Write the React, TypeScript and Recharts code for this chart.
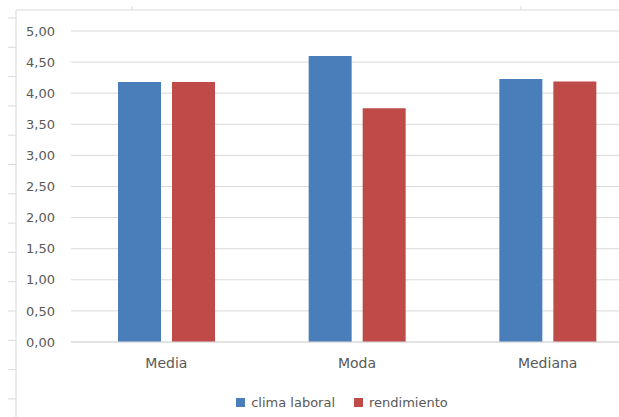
import { Bar, BarChart, CartesianGrid, Legend, XAxis, YAxis } from "recharts";

const categories = ["Media", "Moda", "Mediana"];
const climaLaboral = [4.18, 4.6, 4.23];
const rendimiento = [4.18, 3.76, 4.19];
const yTicks = [0, 0.5, 1, 1.5, 2, 2.5, 3, 3.5, 4, 4.5, 5];

const SERIES = [
  { key: "clima", label: "clima laboral", color: "#4A7EBB" },
  { key: "rend", label: "rendimiento", color: "#BE4B48" },
];

const FONT = "'DejaVu Sans', sans-serif";
const TEXT = "#595959";
const GRID = "#d9d9d9";

const chartData = categories.map((name, i) => ({
  name,
  clima: climaLaboral[i],
  rend: rendimiento[i],
}));

// the cropped sheet frame around the chart
const frameTicksLeft = Array.from({ length: 14 }, (_, i) => 18 + i * 29.3);
const frameTicksTop = [132, 521];

function LegendRow() {
  return (
    <div
      style={{
        display: "flex",
        justifyContent: "center",
        alignItems: "center",
        height: 30,
        gap: 19,
        paddingLeft: 41,
        fontFamily: FONT,
        fontSize: 13,
        color: TEXT,
      }}
    >
      {SERIES.map((s) => (
        <span key={s.key} style={{ display: "flex", alignItems: "center", gap: 6 }}>
          <span style={{ width: 9, height: 9, backgroundColor: s.color, display: "inline-block" }} />
          {s.label}
        </span>
      ))}
    </div>
  );
}

export default function App() {
  return (
    <div style={{ position: "absolute", left: 0, top: 0, width: 619, height: 417, overflow: "hidden", background: "#fff" }}>
      <svg width={619} height={417} style={{ position: "absolute", left: 0, top: 0 }}>
        <line x1={16} y1={10} x2={16} y2={417} stroke={GRID} />
        <line x1={16} y1={10} x2={619} y2={10} stroke={GRID} />
        {frameTicksLeft.map((y) => (
          <line key={y} x1={8} y1={y} x2={16} y2={y} stroke={GRID} />
        ))}
        {frameTicksTop.map((x) => (
          <line key={x} x1={x} y1={6} x2={x} y2={10} stroke={GRID} />
        ))}
      </svg>
      <div style={{ position: "absolute", left: 0, top: 0 }}>
        <BarChart
          width={684}
          height={417}
          data={chartData}
          margin={{ top: 31, right: 41, left: 0, bottom: 0 }}
          barSize={43}
          barGap={11}
        >
          <CartesianGrid vertical={false} stroke={GRID} />
          <XAxis
            dataKey="name"
            axisLine={{ stroke: GRID }}
            tickLine={false}
            tickSize={0}
            tickMargin={16}
            height={45}
            tick={{ fontFamily: FONT, fontSize: 14, fill: TEXT }}
          />
          <YAxis
            domain={[0, 5]}
            ticks={yTicks}
            width={71}
            axisLine={false}
            tickLine={false}
            tickSize={0}
            tickMargin={16}
            tickFormatter={(v: number) => v.toFixed(2).replace(".", ",")}
            tick={{ fontFamily: FONT, fontSize: 13, fill: TEXT }}
          />
          <Legend verticalAlign="bottom" height={30} content={() => <LegendRow />} />
          {SERIES.map((s) => (
            <Bar key={s.key} dataKey={s.key} name={s.label} fill={s.color} isAnimationActive={false} />
          ))}
        </BarChart>
      </div>
    </div>
  );
}
